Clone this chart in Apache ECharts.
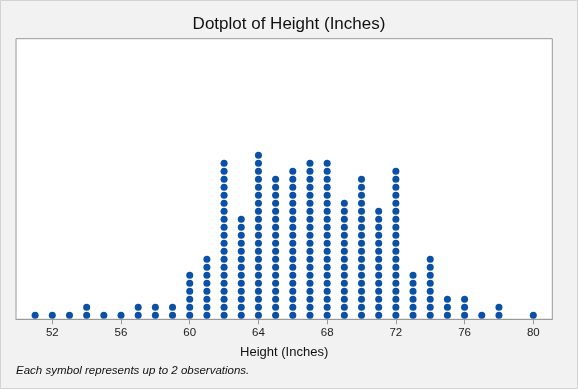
<!DOCTYPE html>
<html>
<head>
<meta charset="utf-8">
<script src="https://cdn.jsdelivr.net/npm/echarts@6/dist/echarts.min.js"></script>
<style>
html,body{margin:0;padding:0;background:#f2f2f2;}
#chart{width:578px;height:389px;}
</style>
</head>
<body>
<div id="chart"></div>
<script>
// Data
var heights = [51,52,53,54,55,56,57,58,59,60,61,62,63,64,65,66,67,68,69,70,71,72,73,74,75,76,77,78,79,80];
var symbolCounts = [1,1,1,2,1,1,2,2,2,6,8,20,13,21,18,19,20,20,15,18,14,19,6,8,3,3,1,2,0,1];
var tickLabels = [52,56,60,64,68,72,76,80];

var FONT = "'Liberation Sans', Arial, Helvetica, sans-serif";

var dots = [];
for (var i = 0; i < heights.length; i++) {
  for (var k = 0; k < symbolCounts[i]; k++) {
    dots.push([heights[i], k]);
  }
}

var chart = echarts.init(document.getElementById('chart'), null, {renderer: 'canvas'});
chart.setOption({
  backgroundColor: '#f2f2f2',
  animation: false,
  title: {
    text: 'Dotplot of Height (Inches)',
    left: 'center',
    top: 10,
    textStyle: {fontFamily: FONT, fontSize: 17, fontWeight: 'normal', color: '#111', lineHeight: 19}
  },
  grid: {
    left: 16, right: 25.7, top: 38.7, bottom: 69.7,
    show: true, backgroundColor: '#ffffff', borderColor: '#9a9a9a', borderWidth: 1,
    containLabel: false
  },
  xAxis: {
    type: 'value',
    min: 49.887, max: 81.106,
    name: 'Height (Inches)',
    nameLocation: 'middle',
    nameGap: 27,
    nameTextStyle: {fontFamily: FONT, fontSize: 13, color: '#111'},
    axisLine: {show: true, onZero: false, lineStyle: {color: '#9a9a9a', width: 1}},
    axisTick: {show: true, length: 5, lineStyle: {color: '#9a9a9a'}, customValues: tickLabels},
    axisLabel: {fontFamily: FONT, fontSize: 11.5, color: '#222', margin: 8, customValues: tickLabels},
    splitLine: {show: false}
  },
  yAxis: {
    type: 'value',
    min: -0.5, max: 34.57,
    show: false,
    splitLine: {show: false}
  },
  series: [{
    type: 'scatter',
    data: dots,
    symbol: 'circle',
    symbolSize: 7,
    itemStyle: {color: '#0a50a6', opacity: 1},
    silent: true
  }],
  graphic: [
    {
      type: 'rect',
      shape: {x: 0.5, y: 0.5, width: 577, height: 388},
      style: {fill: 'none', stroke: '#d2d2d2', lineWidth: 1},
      silent: true
    },
    {
      type: 'text',
      x: 16, y: 371,
      style: {
        text: 'Each symbol represents up to 2 observations.',
        font: 'italic 11.5px ' + FONT,
        fill: '#111',
        verticalAlign: 'middle',
        align: 'left'
      },
      silent: true
    }
  ]
});
</script>
</body>
</html>
